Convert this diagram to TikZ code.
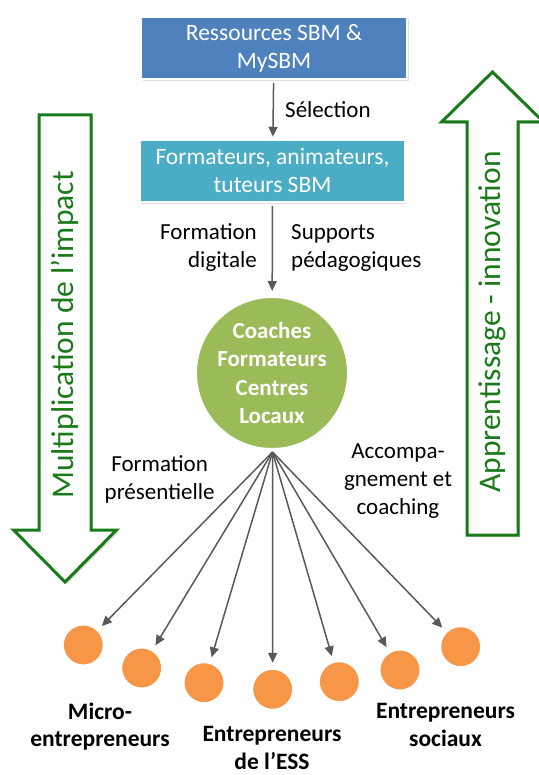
\documentclass[tikz,border=0pt]{standalone}
\usepackage{fontspec}
\setmainfont{Carlito}
\usetikzlibrary{positioning}
\usetikzlibrary{shadows}
\usetikzlibrary{arrows.meta}

\definecolor{sbmblue}{RGB}{79,129,189}
\definecolor{sbmcyan}{RGB}{75,172,198}
\definecolor{sbmgreen}{RGB}{155,187,89}
\definecolor{sbmorange}{RGB}{247,150,70}
\definecolor{linkgray}{RGB}{89,89,89}
\definecolor{arrowgreen}{RGB}{26,122,26}

\begin{document}
\begin{tikzpicture}[x=1pt, y=-1pt,
		    font=\fontsize{23}{28}\selectfont,
		    box/.style={rectangle, draw=white, line width=2.5pt, text=white,
			   align=center, minimum width=266pt, minimum height=62pt,
			   inner sep=0pt, font=\fontsize{23.5}{28}\selectfont,
			   drop shadow={shadow xshift=1.5pt, shadow yshift=-2pt, opacity=.25}},
		    hub/.style={circle, draw=white, line width=5pt, fill=sbmgreen,
			   text=white, align=center, minimum size=155pt, inner sep=0pt,
			   font=\fontsize{23}{28.5}\selectfont\bfseries,
			   drop shadow={shadow xshift=1.5pt, shadow yshift=-2pt, opacity=.2}},
		    target/.style={circle, draw=white, line width=5pt, fill=sbmorange,
			   minimum size=44pt, inner sep=0pt,
			   drop shadow={shadow xshift=1pt, shadow yshift=-2pt, opacity=.3}},
		    lbl/.style={align=center, inner sep=0pt},
		    group/.style={lbl, font=\fontsize{23.5}{27.5}\selectfont\bfseries},
		    bigarrow/.style={draw=arrowgreen, line width=3pt, fill=white,
			   drop shadow={shadow xshift=2pt, shadow yshift=-2pt, opacity=.3}},
		    bigtext/.style={text=arrowgreen, rotate=90, inner sep=0pt,
			   font=\fontsize{31.5}{36}\selectfont},
		    link/.style={draw=linkgray, line width=1.5pt,
			   -{Triangle[length=10pt,width=9pt]},
			   shorten >=2pt, shorten <=3pt}]
 \useasboundingbox (0,0) rectangle (538,775);

 % big side arrows
 \draw[bigarrow] (39,115) -- (91,115) -- (91,530) -- (116.5,530) -- (65,582)
       -- (13.5,530) -- (39,530) -- cycle;
 \draw[bigarrow] (467,535) -- (467,122) -- (441.5,122) -- (492.5,72)
       -- (543.5,122) -- (518,122) -- (518,535) -- cycle;
 \node[bigtext] (impact) at (65,335) {Multiplication de l’impact};
 \node[bigtext] (innov) at (492.5,322) {Apprentissage - innovation};

 % main chain
 \node[box, fill=sbmblue] (ressources) at (274,48) {Ressources SBM \&\\MySBM};
 \node[box, fill=sbmcyan] (formateurs) at (272.5,171) {Formateurs, animateurs,\\tuteurs SBM};
 \node[hub] (coaches) at (272,373) {Coaches\\Formateurs\\Centres\\Locaux};
 \coordinate (fan) at (272.5,452);

 \path[link] (ressources) -- (formateurs);
 \path[link] (formateurs) -- (coaches);

 \node[lbl, anchor=west] (selection) at (285,110) {Sélection};
 \node[lbl, anchor=east, align=right] (digital) at (257,248) {Formation\\digitale};
 \node[lbl, anchor=west, align=left] (supports) at (291,248) {Supports\\pédagogiques};
 \node[lbl] (presentiel) at (159.6,479) {Formation\\présentielle};
 \node[lbl] (accomp) at (398,481) {Accompa-\\gnement et\\coaching};

 % entrepreneurs
 \node[target] (e1) at (83.3,645) {};
 \node[target] (e2) at (141.7,668) {};
 \node[target] (e3) at (204,682.7) {};
 \node[target] (e4) at (272.7,689.3) {};
 \node[target] (e5) at (339.3,681.7) {};
 \node[target] (e6) at (400,670) {};
 \node[target] (e7) at (460.7,646.7) {};

 \foreach \e in {e1,e2,e3,e4,e5,e6,e7}
   \path[link, shorten <=0pt] (fan) -- (\e);

 \node[group] (micro) at (100,726.5) {Micro-\\entrepreneurs};
 \node[group] (ess) at (272,748) {Entrepreneurs\\de l’ESS};
 \node[group] (sociaux) at (445.5,725) {Entrepreneurs\\sociaux};
\end{tikzpicture}
\end{document}
